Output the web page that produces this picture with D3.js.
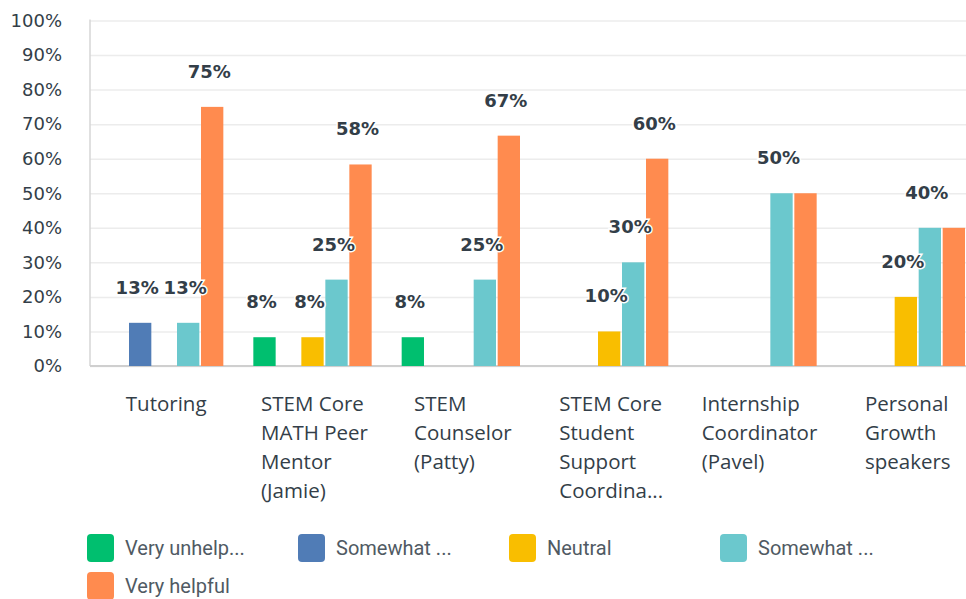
<!DOCTYPE html>
<html>
<head>
<meta charset="utf-8">
<script src="https://cdn.jsdelivr.net/npm/d3@7"></script>
<style>
	body { margin: 0; background: #fff; }
	svg { display: block; }
</style>
</head>
<body>
<div id="chart"></div>
<script>
// data
var categories = ["Tutoring", "STEM Core MATH Peer Mentor (Jamie)", "STEM Counselor (Patty)",
	"STEM Core Student Support Coordina...", "Internship Coordinator (Pavel)", "Personal Growth speakers"];
var categoryLines = [
	["Tutoring"],
	["STEM Core", "MATH Peer", "Mentor", "(Jamie)"],
	["STEM", "Counselor", "(Patty)"],
	["STEM Core", "Student", "Support", "Coordina..."],
	["Internship", "Coordinator", "(Pavel)"],
	["Personal", "Growth", "speakers"]
];
var seriesNames = ["Very unhelp...", "Somewhat ...", "Neutral", "Somewhat ...", "Very helpful"];
var veryUnhelpful = [0, 8.33, 8.33, 0, 0, 0];
var somewhatUnhelpful = [12.5, 0, 0, 0, 0, 0];
var neutral = [0, 8.33, 0, 10, 0, 20];
var somewhatHelpful = [12.5, 25, 25, 30, 50, 40];
var veryHelpful = [75, 58.33, 66.67, 60, 50, 40];
var yTicks = [0, 10, 20, 30, 40, 50, 60, 70, 80, 90, 100];

var BarChart = function(view, plotWidth, plotHeight){
	const s = this;
	const
		COLORS = ["#00bf6f", "#507cb6", "#f9be00", "#6bc8cd", "#ff8b4f"],
		TEXT = "#333e48",
		LEFT = 90, RIGHT = 980, TOP = 20.5, BOTTOM = 366,
		FONT = "Roboto, 'Noto Sans', sans-serif";

	var svg, x, xs, y,
		allSeries = [veryUnhelpful, somewhatUnhelpful, neutral, somewhatHelpful, veryHelpful];

	s.init = function(){
		svg = d3.select(view).append("svg")
			.attr("width", plotWidth)
			.attr("height", plotHeight)
			.style("font-family", FONT);
		x = d3.scaleBand().domain(d3.range(categories.length)).range([LEFT, RIGHT]);
		xs = d3.scaleBand().domain(d3.range(seriesNames.length))
			.range([15, x.bandwidth() - 15]).paddingInner(0.07);
		y = d3.scaleLinear().domain([0, 100]).range([BOTTOM, TOP]);
		s.drawGrid();
		s.drawBars();
		s.drawCategories();
		s.drawLegend();
	}

	s.drawGrid = function(){
		var yAxis = d3.axisLeft(y).tickValues(yTicks)
			.tickFormat(function(d){ return d + "%"; })
			.tickSize(-(plotWidth - LEFT)).tickPadding(28);
		var g = svg.append("g")
			.attr("transform", "translate(" + LEFT + ",0)")
			.call(yAxis);
		g.select(".domain").remove();
		g.selectAll(".tick line").attr("stroke", "#ececec").attr("stroke-width", 1.5);
		g.selectAll(".tick text")
			.attr("fill", TEXT)
			.style("font-size", "18px")
			.style("font-family", "'DejaVu Sans', sans-serif");
		svg.append("line")
			.attr("x1", LEFT).attr("x2", LEFT)
			.attr("y1", TOP - 1).attr("y2", BOTTOM)
			.attr("stroke", "#d6d6d6").attr("stroke-width", 1.5);
		svg.append("line")
			.attr("x1", LEFT).attr("x2", plotWidth)
			.attr("y1", BOTTOM).attr("y2", BOTTOM)
			.attr("stroke", "#cfcfcf").attr("stroke-width", 2);
	}

	s.drawBars = function(){
		var groups = svg.selectAll(".group")
			.data(categories)
			.enter().append("g")
			.attr("class", "group")
			.attr("transform", function(d, i){ return "translate(" + x(i) + ",0)"; });
		groups.selectAll("rect")
			.data(function(d, i){
				return allSeries.map(function(arr, k){ return {k: k, v: arr[i]}; })
					.filter(function(d){ return d.v > 0; });
			})
			.enter().append("rect")
			.attr("x", function(d){ return xs(d.k); })
			.attr("y", function(d){ return y(d.v); })
			.attr("width", xs.bandwidth())
			.attr("height", function(d){ return BOTTOM - y(d.v); })
			.attr("fill", function(d){ return COLORS[d.k]; });
		// value labels; a label equal to the bar right before it is hidden (it would overlap)
		groups.selectAll(".lbl")
			.data(function(d, i){
				return allSeries.map(function(arr, k){ return {k: k, v: arr[i]}; })
					.filter(function(d){
						if(d.v <= 0) return false;
						if(d.k > 0 && allSeries[d.k - 1][i] == d.v) return false;
						return true;
					});
			})
			.enter().append("text")
			.attr("class", "lbl")
			.attr("x", function(d){ return xs(d.k) + xs.bandwidth() / 2 - 3; })
			.attr("y", function(d){ return y(d.v) - 29; })
			.attr("text-anchor", "middle")
			.attr("fill", TEXT)
			.attr("stroke", "#fff").attr("stroke-width", 3)
			.attr("paint-order", "stroke")
			.style("font-family", "'DejaVu Sans', sans-serif")
			.style("font-size", "18px").style("font-weight", "bold")
			.text(function(d){ return Math.round(d.v) + "%"; });
	}

	s.drawCategories = function(){
		categoryLines.forEach(function(lines, i){
			var g = svg.append("g");
			var t = g.selectAll("text").data(lines).enter().append("text")
				.attr("y", function(d, j){ return 411 + j * 29; })
				.attr("fill", TEXT)
				.style("font-family", "'Open Sans', sans-serif")
				.style("font-size", "20.5px")
				.text(function(d){ return d; });
			var maxW = d3.max(t.nodes(), function(n){ return n.getComputedTextLength(); });
			t.attr("x", x(i) + x.bandwidth() / 2 - maxW / 2 + 2);
		});
	}

	s.drawLegend = function(){
		var legend = svg.selectAll(".legend")
			.data(seriesNames)
			.enter().append("g")
			.attr("class", "legend")
			.attr("transform", function(d, i){
				return "translate(" + (87 + (i % 4) * 211) + "," + (534 + Math.floor(i / 4) * 38) + ")";
			});
		legend.append("rect")
			.attr("width", 27).attr("height", 28).attr("rx", 4)
			.attr("fill", function(d, i){ return COLORS[i]; });
		legend.append("text")
			.attr("x", 38).attr("y", 21)
			.attr("fill", "#505a63")
			.style("font-size", "20px")
			.text(function(d){ return d; });
	}
}

var chart = new BarChart("#chart", 966, 599);
chart.init();
</script>
</body>
</html>
